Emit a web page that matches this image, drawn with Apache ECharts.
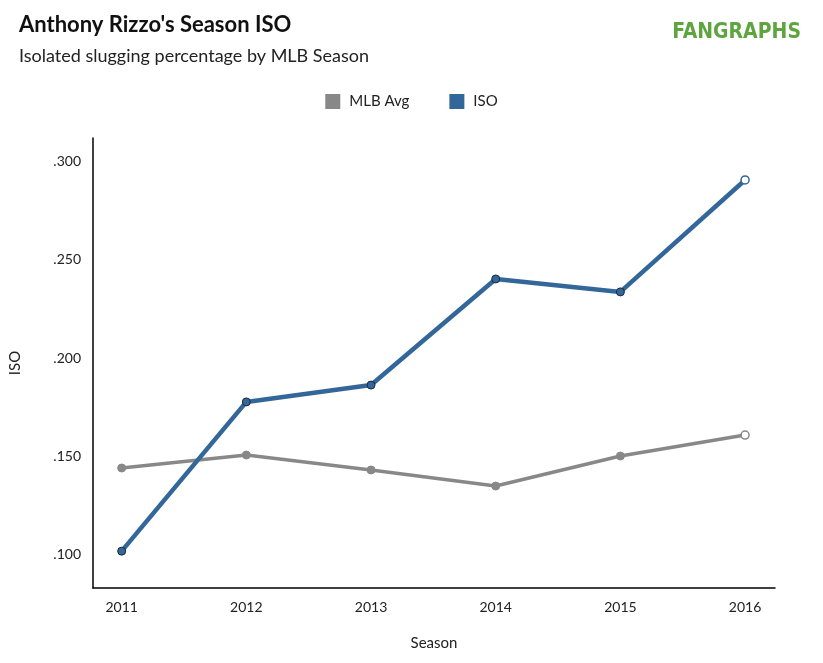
<!DOCTYPE html>
<html>
<head>
<meta charset="UTF-8">
<script src="https://cdn.jsdelivr.net/npm/echarts@6/dist/echarts.min.js"></script>
<style>
  html, body { margin: 0; background: #fff; }
  #chart { width: 823px; height: 663px; }
</style>
</head>
<body>
<div id="chart"></div>
<script>
  const seasons = [2011, 2012, 2013, 2014, 2015, 2016];
  const mlbAvg = [0.1439, 0.1505, 0.1429, 0.1347, 0.1500, 0.1607];
  const iso = [0.1015, 0.1776, 0.1862, 0.2403, 0.2337, 0.2908];
  const yTicks = [0.100, 0.150, 0.200, 0.250, 0.300];

  function points(vals, color) {
    return vals.map((v, i) => {
      const last = i === vals.length - 1;
      return {
        value: [seasons[i], v],
        itemStyle: last
          ? { color: '#fff', borderColor: color, borderWidth: 1.5 }
          : { color: color, borderColor: color === '#336699' ? '#1a2a3a' : color, borderWidth: 1 }
      };
    });
  }

  const font = 'Lato, sans-serif';
  const chart = echarts.init(document.getElementById('chart'));
  chart.setOption({
    animation: false,
    textStyle: { fontFamily: font },
    title: [
      { text: "Anthony Rizzo's Season ISO", left: 14, top: 9,
        textStyle: { fontSize: 22, fontWeight: 'bold', color: '#111', fontFamily: font } },
      { text: 'Isolated slugging percentage by MLB Season', left: 14, top: 42,
        textStyle: { fontSize: 18, fontWeight: 'normal', color: '#222', fontFamily: font } }
    ],
    graphic: [
      { type: 'text', right: 22, top: 22,
        style: { text: 'FANGRAPHS', fill: '#5fa53f', font: 'bold 21px "Liberation Sans Narrow", "DejaVu Sans Condensed", sans-serif' } }
    ],
    legend: {
      top: 89, left: 'center', itemGap: 40, itemWidth: 15, itemHeight: 15,
      icon: 'rect',
      textStyle: { fontSize: 15, color: '#222', padding: [0, 0, 0, 4] },
      data: ['MLB Avg', 'ISO']
    },
    grid: { left: 92, right: 48, top: 138, bottom: 75 },
    xAxis: {
      type: 'value', min: 2010.77, max: 2016.24,
      name: 'Season', nameLocation: 'middle', nameGap: 48,
      nameTextStyle: { fontSize: 15, color: '#222' },
      axisLine: { lineStyle: { color: '#000', width: 1.5 } },
      axisTick: { show: false },
      splitLine: { show: false },
      axisLabel: { customValues: seasons, fontSize: 14, color: '#222', margin: 12,
        formatter: v => String(v) }
    },
    yAxis: {
      type: 'value', min: 0.0827, max: 0.3122,
      name: 'ISO', nameLocation: 'middle', nameGap: 70,
      nameTextStyle: { fontSize: 15, color: '#222' },
      axisLine: { show: true, lineStyle: { color: '#000', width: 1.5 } },
      axisTick: { show: false },
      splitLine: { show: false },
      axisLabel: { customValues: yTicks, fontSize: 14, color: '#222', margin: 12,
        formatter: v => v.toFixed(3).replace(/^0/, '') }
    },
    series: [
      { name: 'MLB Avg', type: 'line', data: points(mlbAvg, '#888888'),
        color: '#888888', symbol: 'circle', symbolSize: 8,
        lineStyle: { width: 3.5, color: '#888888' } },
      { name: 'ISO', type: 'line', data: points(iso, '#336699'),
        color: '#336699', symbol: 'circle', symbolSize: 8,
        lineStyle: { width: 4.5, color: '#336699' } }
    ]
  });
</script>
</body>
</html>
